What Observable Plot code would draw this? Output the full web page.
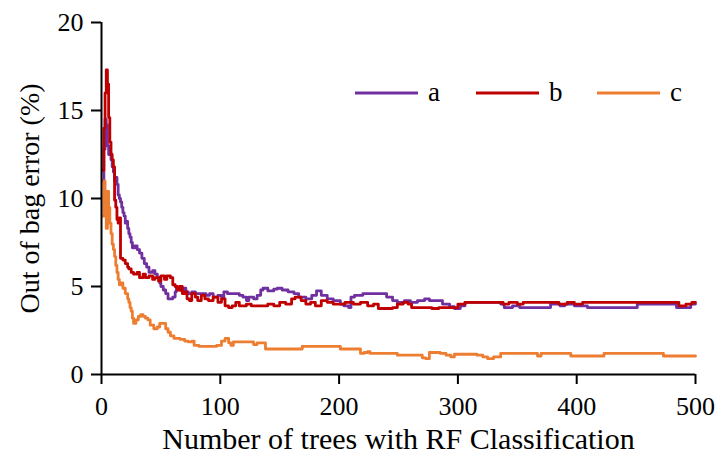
<!DOCTYPE html>
<html><head><meta charset="utf-8">
<script src="https://cdn.jsdelivr.net/npm/d3@7"></script>
<script src="https://cdn.jsdelivr.net/npm/@observablehq/plot@0.6"></script>
<style>
body{margin:0;background:#fff}
#wrap{position:relative;width:716px;height:459px;font-family:'Liberation Serif','Times New Roman',serif}
#legend{position:absolute;left:355px;top:77px;display:flex;font-size:27px;color:#000}
.item{display:flex;align-items:center;width:121px}
.item svg{margin-right:10px}
</style>
</head><body><div id="wrap"><div id="legend"></div></div>
<script>
const seriesNames = ["a", "b", "c"];
const seriesColors = ["#7030A0", "#C00000", "#ED7D31"];
const xTicks = [0, 100, 200, 300, 400, 500];
const yTicks = [0, 5, 10, 15, 20];
const xTitle = "Number of trees with RF Classification";
const yTitle = "Out of bag error (%)";

// [number of trees, OOB error %]
const errA = [[1,11.0],[2,12.8],[3,14.5],[4,14.2],[5,13.0],[6,12.5],[7,12.6],[8,12.2],[9,11.8],[10,11.5],[11,11.0],[12,11.2],[13,10.8],[14,10.2],[15,10.0],[16,9.8],[17,9.5],[18,9.2],[19,9.0],[20,8.6],[21,8.7],[22,8.3],[23,8.0],[24,7.8],[25,7.5],[26,7.2],[28,7.3],[30,7.1],[32,6.9],[34,6.6],[36,6.3],[38,6.1],[40,5.8],[43,5.9],[45,5.7],[47,5.5],[49,5.2],[50,5.0],[52,4.8],[54,4.6],[56,4.3],[58,4.3],[60,4.4],[62,4.7],[63,4.95],[66,4.8],[69,4.9],[71,4.7],[73,4.6],[76,4.7],[79,4.6],[83,4.6],[88,4.5],[91,4.6],[94,4.4],[98,4.5],[101,4.4],[103,4.7],[106,4.6],[111,4.6],[116,4.5],[119,4.4],[122,4.2],[124,4.4],[128,4.3],[131,4.5],[134,4.8],[136,4.9],[140,4.75],[145,4.85],[148,4.9],[152,4.8],[157,4.7],[162,4.6],[166,4.4],[172,4.3],[177,4.5],[181,4.75],[185,4.5],[190,4.3],[195,4.2],[201,4.0],[204,3.9],[208,3.8],[210,4.4],[213,4.5],[220,4.6],[236,4.6],[240,4.4],[245,4.2],[249,4.1],[255,4.2],[260,4.1],[266,4.2],[272,4.3],[276,4.2],[283,4.2],[287,4.0],[293,3.85],[297,3.75],[302,3.9],[306,4.1],[336,4.0],[339,3.8],[346,3.9],[352,3.8],[375,3.8],[378,4.0],[386,3.9],[390,4.0],[398,3.9],[409,3.8],[448,3.8],[451,4.0],[481,4.0],[484,3.8],[494,3.8],[496,4.0],[500,4.0]];
const errB = [[1,11.6],[2,14.0],[3,16.0],[4,17.3],[5,16.5],[6,14.6],[7,13.2],[8,12.5],[9,12.2],[10,11.8],[11,9.9],[12,9.5],[13,8.8],[14,8.6],[15,8.9],[16,6.6],[18,6.5],[20,6.3],[22,6.1],[23,6.0],[25,5.8],[27,5.7],[30,5.8],[32,5.5],[35,5.7],[37,5.5],[40,5.6],[43,5.4],[45,5.5],[48,5.3],[50,5.6],[53,5.4],[55,5.6],[58,5.5],[60,5.1],[62,5.0],[64,4.8],[66,5.0],[68,4.6],[70,4.7],[72,4.3],[74,4.2],[76,4.6],[79,4.4],[81,4.2],[84,4.5],[87,4.3],[90,4.2],[94,4.4],[98,4.1],[101,4.3],[104,3.9],[107,3.8],[110,3.9],[113,4.1],[116,3.9],[122,4.0],[126,3.9],[134,3.9],[140,4.0],[145,3.9],[150,4.1],[155,4.0],[160,4.3],[163,4.4],[168,4.2],[172,4.0],[176,4.1],[180,3.9],[185,4.2],[190,4.1],[195,4.0],[205,4.1],[212,4.0],[218,4.1],[224,3.9],[229,4.0],[233,3.75],[245,3.8],[249,4.0],[254,4.1],[258,4.0],[261,3.8],[270,3.8],[278,3.75],[284,3.8],[295,3.8],[300,4.0],[306,4.1],[336,4.1],[338,4.0],[343,4.1],[350,4.0],[355,4.1],[375,4.1],[385,4.0],[392,4.1],[398,4.0],[405,4.1],[450,4.1],[486,3.9],[492,4.0],[497,4.1],[500,4.1]];
const errC = [[1,9.0],[2,11.0],[3,9.8],[4,8.3],[5,10.4],[6,9.5],[7,8.6],[8,8.0],[9,7.4],[10,7.1],[11,6.7],[12,6.2],[13,5.8],[14,5.4],[15,5.1],[16,5.2],[18,4.9],[20,4.6],[22,4.3],[23,4.1],[24,3.8],[25,3.6],[26,3.2],[27,2.9],[29,3.1],[31,3.3],[33,3.4],[35,3.3],[37,3.2],[39,3.1],[41,2.8],[44,2.6],[47,2.7],[49,2.9],[52,2.9],[54,2.6],[56,2.4],[58,2.2],[61,2.05],[66,2.0],[70,1.9],[73,1.85],[76,1.9],[78,1.65],[82,1.6],[90,1.6],[97,1.65],[101,1.9],[104,2.05],[107,1.8],[109,1.65],[111,1.85],[125,1.85],[128,1.7],[131,1.8],[135,1.8],[138,1.45],[168,1.45],[169,1.6],[200,1.6],[201,1.45],[216,1.45],[218,1.2],[221,1.25],[224,1.3],[226,1.2],[246,1.2],[249,1.1],[268,1.1],[270,0.95],[273,0.9],[276,1.25],[285,1.2],[290,1.1],[294,1.0],[297,1.15],[313,1.15],[316,1.1],[321,1.0],[325,0.9],[330,1.0],[336,1.2],[364,1.2],[367,1.05],[370,1.2],[392,1.2],[395,1.05],[420,1.05],[423,1.2],[471,1.2],[473,1.05],[500,1.05]];

const allSeries = [errA, errB, errC];
const data = allSeries.flatMap((arr, i) => arr.map(([t, v]) => ({series: seriesNames[i], trees: t, error: v})));

const font = "'Liberation Serif','Times New Roman',serif";
const plot = Plot.plot({
  width: 716, height: 459,
  marginLeft: 101, marginRight: 21, marginTop: 22, marginBottom: 85,
  style: {fontFamily: font, fontSize: "26px", color: "#000", background: "#fff", overflow: "visible"},
  x: {domain: [0, 500]},
  y: {domain: [0, 20]},
  color: {domain: seriesNames, range: seriesColors},
  marks: [
    Plot.line(data, {x: "trees", y: "error", z: "series", stroke: "series", strokeWidth: 2.8, curve: "step-after"}),
    Plot.ruleY([0], {stroke: "#000", strokeWidth: 2}),
    Plot.ruleX([0], {stroke: "#000", strokeWidth: 2}),
    Plot.axisX({ticks: xTicks, tickSize: 10, tickPadding: 12, strokeWidth: 2, fontSize: 26, label: null}),
    Plot.axisX({ticks: [], label: xTitle, labelAnchor: "center", labelArrow: "none", labelOffset: 74, fontSize: 30}),
    Plot.axisY({ticks: yTicks, tickSize: 10, tickPadding: 8, strokeWidth: 2, fontSize: 26, label: null}),
    Plot.axisY({ticks: [], label: yTitle, labelAnchor: "center", labelArrow: "none", labelOffset: 82, fontSize: 28})
  ]
});
document.getElementById("wrap").prepend(plot);

const legend = document.getElementById("legend");
seriesNames.forEach((n, i) => {
  const it = document.createElement("div");
  it.className = "item";
  it.innerHTML = `<svg width="63" height="6"><line x1="0" x2="63" y1="3" y2="3" stroke="${seriesColors[i]}" stroke-width="3"/></svg><span>${n}</span>`;
  legend.appendChild(it);
});
</script>
</body></html>
